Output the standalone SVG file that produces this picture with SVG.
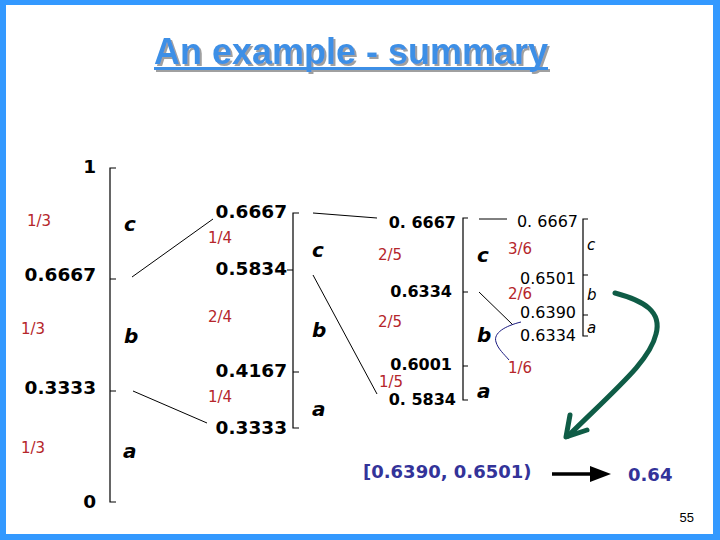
<svg xmlns="http://www.w3.org/2000/svg" width="720" height="540" viewBox="0 0 720 540">
<style>
.ax{stroke:#000;stroke-width:1.2;fill:none}
.ln{stroke:#000;stroke-width:1;fill:none}
.b18{font-family:"DejaVu Sans",Verdana,sans-serif;font-weight:bold;font-size:18.5px;fill:#000}
.b16{font-family:"DejaVu Sans",Verdana,sans-serif;font-weight:bold;font-size:16px;fill:#000}
.n16{font-family:"DejaVu Sans",Verdana,sans-serif;font-size:16px;fill:#000}
.fr{font-family:"DejaVu Sans",Verdana,sans-serif;font-size:15px;fill:#b5262b}
.bi{font-family:"DejaVu Sans",Verdana,sans-serif;font-weight:bold;font-style:italic;font-size:20px;fill:#000}
.ni{font-family:"DejaVu Sans",Verdana,sans-serif;font-style:italic;font-size:15px;fill:#000}
.res{font-family:"DejaVu Sans",Verdana,sans-serif;font-weight:bold;font-size:18px;fill:#333399}
.title{font-family:"Liberation Sans",Arial,sans-serif;font-weight:bold;font-size:36px;fill:#3d8fe6}
</style>
<defs>
<filter id="sh" x="-5%" y="-20%" width="110%" height="150%">
<feDropShadow dx="2" dy="2" stdDeviation="0.4" flood-color="#a0a0a0" flood-opacity="1"/>
</filter>
</defs>
<rect x="0" y="0" width="720" height="540" fill="#fff"/>
<path d="M0,0 H720 V540 H0 Z M6,5 V534 H713 V5 Z" fill="#3399ff" fill-rule="evenodd"/>

<g id="title" filter="url(#sh)">
<text class="title" x="351" y="64" text-anchor="middle">An example - summary</text>
<rect x="154" y="67" width="394" height="3" fill="#3d8fe6"/>
</g>

<g id="axis1">
<path class="ax" d="M116,168 H110 V502 H116 M110,279 H116 M110,391 H116"/>
<text class="b18" x="96" y="173" text-anchor="end">1</text>
<text class="b18" x="96" y="281" text-anchor="end">0.6667</text>
<text class="b18" x="96" y="394" text-anchor="end">0.3333</text>
<text class="b18" x="96" y="508" text-anchor="end">0</text>
<text class="fr" x="27" y="226">1/3</text>
<text class="fr" x="21" y="334">1/3</text>
<text class="fr" x="21" y="453">1/3</text>
<text class="bi" x="124" y="231">c</text>
<text class="bi" x="124" y="343">b</text>
<text class="bi" x="123" y="458">a</text>
</g>

<g id="axis2">
<path class="ax" d="M299,213 H293 V428 H299 M287,270 H293 M293,372 H299"/>
<text class="b18" x="287" y="218" text-anchor="end">0.6667</text>
<text class="b18" x="287" y="275" text-anchor="end">0.5834</text>
<text class="b18" x="287" y="377" text-anchor="end">0.4167</text>
<text class="b18" x="287" y="434" text-anchor="end">0.3333</text>
<text class="fr" x="208" y="243">1/4</text>
<text class="fr" x="208" y="322">2/4</text>
<text class="fr" x="208" y="402">1/4</text>
<text class="bi" x="312" y="257">c</text>
<text class="bi" x="312" y="337">b</text>
<text class="bi" x="312" y="416">a</text>
</g>

<g id="axis3">
<path class="ax" d="M468,218 H463 V400 H468 M463,292 H468 M463,366 H468"/>
<text class="b16" x="456" y="228" text-anchor="end">0. 6667</text>
<text class="b16" x="452" y="297" text-anchor="end">0.6334</text>
<text class="b16" x="452" y="370" text-anchor="end">0.6001</text>
<text class="b16" x="456" y="405" text-anchor="end">0. 5834</text>
<text class="fr" x="378" y="260">2/5</text>
<text class="fr" x="378" y="327">2/5</text>
<text class="fr" x="379" y="387">1/5</text>
<text class="bi" x="477" y="262">c</text>
<text class="bi" x="477" y="342">b</text>
<text class="bi" x="477" y="398">a</text>
</g>

<g id="axis4">
<path class="ax" d="M588,219 H583 V336 H588 M583,275 H588 M583,315 H588"/>
<text class="n16" x="578" y="227" text-anchor="end">0. 6667</text>
<text class="n16" x="576" y="284" text-anchor="end">0.6501</text>
<text class="n16" x="576" y="318" text-anchor="end">0.6390</text>
<text class="n16" x="576" y="341" text-anchor="end">0.6334</text>
<text class="fr" x="508" y="254">3/6</text>
<text class="fr" x="508" y="299">2/6</text>
<text class="fr" x="508" y="373">1/6</text>
<text class="ni" x="587" y="250">c</text>
<text class="ni" x="587" y="300">b</text>
<text class="ni" x="587" y="333">a</text>
</g>

<g id="connectors">
<line class="ln" x1="132" y1="277" x2="213" y2="219"/>
<line class="ln" x1="133" y1="391" x2="207" y2="423"/>
<line class="ln" x1="313" y1="213" x2="377" y2="218"/>
<line class="ln" x1="313" y1="275" x2="377" y2="394"/>
<line class="ln" x1="479" y1="219" x2="507" y2="219"/>
<line class="ln" x1="479" y1="292" x2="513" y2="325"/>
<path d="M521,322 C505,326 493,333 496,342 C498,349 504,354 509,360" fill="none" stroke="#1a1a80" stroke-width="1"/>
<path d="M615,293 C645,301 662,312 656,334 C650,360 620,385 568,436" fill="none" stroke="#0f5c46" stroke-width="5" stroke-linecap="round"/>
<path d="M570,415 L566,437 L587,430" fill="none" stroke="#0f5c46" stroke-width="5" stroke-linecap="round" stroke-linejoin="round"/>
<line x1="552" y1="474" x2="596" y2="474" stroke="#000" stroke-width="3.5"/>
<path d="M590,466 L611,474 L590,482 Z" fill="#000"/>
</g>

<g id="result">
<text class="res" x="363" y="478">[0.6390, 0.6501)</text>
<text class="res" x="628" y="481">0.64</text>
<text x="694" y="522" text-anchor="end" font-family="Liberation Sans, Arial, sans-serif" font-size="13" fill="#000">55</text>
</g>
</svg>
